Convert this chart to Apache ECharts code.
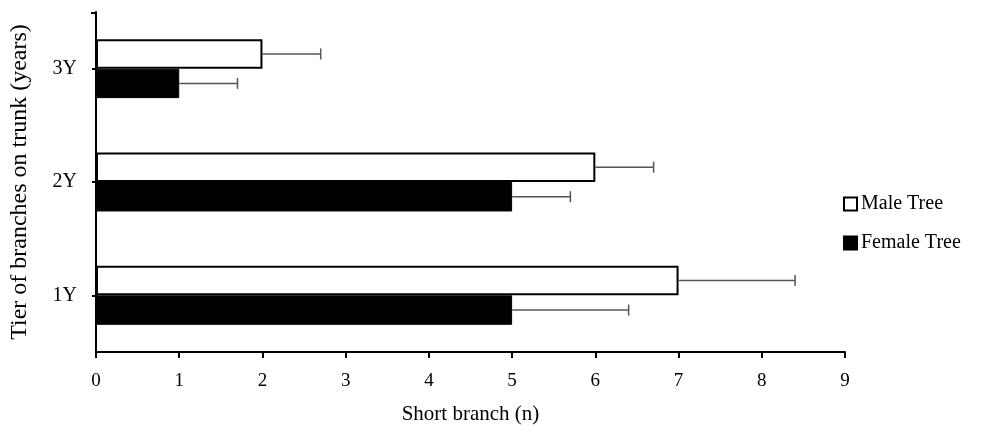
<!DOCTYPE html>
<html>
<head>
<meta charset="utf-8">
<script src="https://cdn.jsdelivr.net/npm/echarts@6/dist/echarts.min.js"></script>
<style>
  html, body { margin: 0; padding: 0; background: #fff; }
  #main { width: 981px; height: 425px; }
</style>
</head>
<body>
<div id="main"></div>
<script>
var categories = ['1Y', '2Y', '3Y'];
var maleValues = [7, 6, 2];
var femaleValues = [5, 5, 1];
var maleErr = [1.4, 0.7, 0.7];
var femaleErr = [1.4, 0.7, 0.7];
var xTicks = [0, 9, 1]; // min, max, interval

var gapRatio = 0.48;
var font = 'Liberation Serif, Times New Roman, serif';

function errData(values, errs) {
    return values.map(function (v, i) { return [v, i, v + errs[i]]; });
}

// side: +1 = lower bar (female), -1 = upper bar (male)
function errRender(side) {
    return function (params, api) {
        var start = api.coord([api.value(0), api.value(1)]);
        var end = api.coord([api.value(2), api.value(1)]);
        var band = api.size([0, 1])[1];
        var bw = band * (1 - gapRatio) / 2;
        var y = start[1] + side * bw / 2;
        var style = { stroke: '#555', lineWidth: 1.5 };
        return {
            type: 'group',
            children: [
                { type: 'line', shape: { x1: start[0], y1: y, x2: end[0], y2: y }, style: style },
                { type: 'line', shape: { x1: end[0], y1: y - 5.5, x2: end[0], y2: y + 5.5 }, style: style }
            ]
        };
    };
}

var chart = echarts.init(document.getElementById('main'));
chart.setOption({
    animation: false,
    textStyle: { fontFamily: font },
    grid: { left: 96, right: 136, top: 12, bottom: 73, outerBoundsMode: 'none', containLabel: false },
    graphic: [
        // small end tick at the top of the y axis
        { type: 'line', shape: { x1: 91, y1: 13, x2: 96, y2: 13 }, style: { stroke: '#000', lineWidth: 2 } }
    ],
    legend: {
        orient: 'vertical',
        left: 838,
        top: 189,
        itemGap: 19,
        itemWidth: 13,
        itemHeight: 13,
        icon: 'rect',
        data: ['Male Tree', 'Female Tree'],
        textStyle: { fontFamily: font, fontSize: 20, lineHeight: 20, color: '#000', padding: [0, 0, 0, -1] }
    },
    xAxis: {
        type: 'value',
        min: xTicks[0],
        max: xTicks[1],
        interval: xTicks[2],
        name: 'Short branch (n)',
        nameLocation: 'middle',
        nameGap: 52,
        nameTextStyle: { fontFamily: font, fontSize: 21, color: '#000' },
        axisLine: { show: true, lineStyle: { color: '#000', width: 2 } },
        axisTick: { show: true, length: 6, lineStyle: { color: '#000', width: 2 } },
        axisLabel: { fontFamily: font, fontSize: 19, color: '#000', margin: 20 },
        splitLine: { show: false }
    },
    yAxis: {
        type: 'category',
        data: categories,
        name: 'Tier of branches on trunk (years)',
        nameLocation: 'middle',
        nameGap: 64,
        nameTextStyle: { fontFamily: font, fontSize: 24, color: '#000' },
        axisLine: { show: true, lineStyle: { color: '#000', width: 2 } },
        axisTick: { show: true, alignWithLabel: true, length: 4, lineStyle: { color: '#000', width: 2 } },
        axisLabel: { fontFamily: font, fontSize: 20, color: '#000', margin: 19 }
    },
    series: [
        {
            name: 'Male Tree',
            type: 'bar',
            data: maleValues,
            barGap: '0%',
            barCategoryGap: (gapRatio * 100) + '%',
            itemStyle: { color: '#fff', borderColor: '#000', borderWidth: 2 },
            z: 2
        },
        {
            name: 'Female Tree',
            type: 'bar',
            data: femaleValues,
            barGap: '0%',
            barCategoryGap: (gapRatio * 100) + '%',
            itemStyle: { color: '#000', borderColor: '#000', borderWidth: 1 },
            z: 2
        },
        {
            name: 'Male Tree',
            type: 'custom',
            renderItem: errRender(-1),
            data: errData(maleValues, maleErr),
            encode: { x: [0, 2], y: 1 },
            z: 3
        },
        {
            name: 'Female Tree',
            type: 'custom',
            renderItem: errRender(1),
            data: errData(femaleValues, femaleErr),
            encode: { x: [0, 2], y: 1 },
            z: 3
        }
    ]
});
</script>
</body>
</html>
